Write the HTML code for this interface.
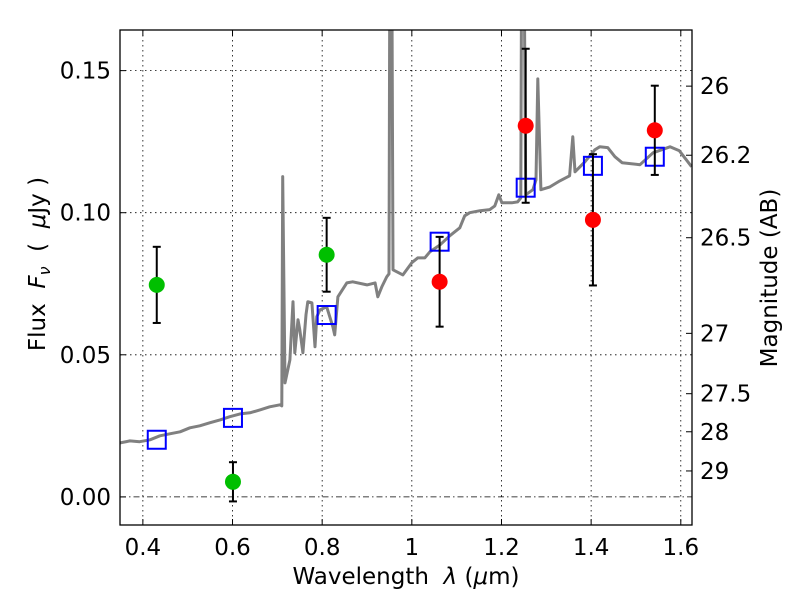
<!DOCTYPE html>
<html><head><meta charset="utf-8"><style>
body{margin:0;background:#fff;}
svg{display:block;font-family:"DejaVu Sans","Liberation Sans",sans-serif;}
text{white-space:pre;}
</style></head><body>
<svg id="chart" width="800" height="600" viewBox="0 0 800 600" xmlns="http://www.w3.org/2000/svg">
<rect width="800" height="600" fill="#fff"/>
<defs><clipPath id="pc"><rect x="120" y="30" width="572" height="495"/></clipPath></defs>
<g id="grid"></g>
<g id="marks" clip-path="url(#pc)"></g>
<rect x="120" y="30" width="572" height="495" fill="none" stroke="#000" stroke-width="1.3"/>
<g id="axes"></g>
<text x="406" y="584" font-size="23" text-anchor="middle">Wavelength  <tspan font-style="italic">λ</tspan> (<tspan font-style="italic">μ</tspan>m)</text>
<text transform="translate(45,264) rotate(-90)" font-size="23" text-anchor="middle">Flux  <tspan font-style="italic">F</tspan><tspan font-style="italic" font-size="16" dy="5">ν</tspan><tspan dy="-5">  (  </tspan><tspan font-style="italic">μ</tspan>Jy )</text>
<text transform="translate(777,278) rotate(-90)" font-size="23" text-anchor="middle">Magnitude (AB)</text>
</svg>
<script>
const specLam=[0.349,0.371,0.393,0.416,0.438,0.460,0.483,0.505,0.527,0.550,0.572,0.594,0.617,0.639,0.661,0.683,0.706,0.710,0.712,0.717,0.728,0.735,0.739,0.746,0.750,0.757,0.764,0.768,0.777,0.784,0.788,0.795,0.810,0.824,0.828,0.835,0.855,0.868,0.900,0.918,0.924,0.933,0.944,0.949,0.951,0.955,0.958,0.980,1.000,1.013,1.029,1.040,1.063,1.085,1.107,1.118,1.129,1.152,1.174,1.185,1.194,1.201,1.223,1.236,1.243,1.245,1.250,1.254,1.270,1.277,1.281,1.288,1.308,1.330,1.352,1.359,1.364,1.386,1.408,1.419,1.437,1.453,1.469,1.509,1.538,1.576,1.597,1.624];
const specFlux=[0.0190,0.0197,0.0194,0.0201,0.0215,0.0222,0.0229,0.0243,0.0250,0.0261,0.0271,0.0282,0.0292,0.0296,0.0306,0.0317,0.0324,0.0320,0.1127,0.0401,0.0482,0.0687,0.0507,0.0623,0.0588,0.0507,0.0641,0.0687,0.0683,0.0528,0.0634,0.0658,0.0669,0.0598,0.0570,0.0704,0.0753,0.0757,0.0746,0.0753,0.0704,0.0739,0.0774,0.0785,0.20,0.20,0.0799,0.0781,0.0824,0.0841,0.0841,0.0862,0.0887,0.0919,0.0947,0.0989,0.1000,0.1007,0.1011,0.1024,0.1063,0.1035,0.1035,0.1038,0.1052,0.20,0.20,0.1063,0.1081,0.1116,0.1471,0.1081,0.1091,0.1112,0.1130,0.1267,0.1144,0.1179,0.1221,0.1232,0.1229,0.1197,0.1176,0.1169,0.1211,0.1232,0.1218,0.1162];
const greenLam=[0.431,0.601,0.810];
const greenFlux=[0.0746,0.0053,0.0852];
const greenErr=[0.0134,0.0069,0.0130];
const redLam=[1.062,1.254,1.404,1.542];
const redFlux=[0.0757,0.1306,0.0975,0.1290];
const redErr=[0.0158,0.0271,0.0231,0.0157];
const modelLam=[0.431,0.601,0.810,1.062,1.254,1.404,1.542];
const modelFlux=[0.0201,0.0278,0.0640,0.0898,0.1088,0.1165,0.1197];
const xTicks=[0.4,0.6,0.8,1.0,1.2,1.4,1.6];
const xTickLabels=["0.4","0.6","0.8","1","1.2","1.4","1.6"];
const yTicks=[0,0.05,0.10,0.15];
const yTickLabels=["0.00","0.05","0.10","0.15"];
const magTicks=[26,26.2,26.5,27,27.5,28,29];
const magTickLabels=["26","26.2","26.5","27","27.5","28","29"];

const NS="http://www.w3.org/2000/svg";
const X0=120,X1=692,Y0=30,Y1=525,xmin=0.349,xmax=1.625,ymin=-0.0099,ymax=0.1643;
function sx(v){return X0+(v-xmin)/(xmax-xmin)*(X1-X0);}
function sy(v){return Y1-(v-ymin)/(ymax-ymin)*(Y1-Y0);}
function mk(tag,attrs,parent){const e=document.createElementNS(NS,tag);for(const k in attrs)e.setAttribute(k,attrs[k]);parent.appendChild(e);return e;}
const grid=document.getElementById('grid'),marks=document.getElementById('marks'),axes=document.getElementById('axes');

xTicks.forEach((t,i)=>{
  const x=sx(t);
  const g=mk('line',{x1:x,x2:x,y1:Y0,y2:Y1,stroke:'#000','stroke-width':0.8,'stroke-dasharray':'1.5,3.5'},grid);
  
  mk('line',{x1:x,x2:x,y1:Y1,y2:Y1-6,stroke:'#000'},axes);
  mk('line',{x1:x,x2:x,y1:Y0,y2:Y0+6,stroke:'#000'},axes);
  const tx=mk('text',{x:x,y:555,'font-size':23,'text-anchor':'middle'},axes);
  tx.textContent=xTickLabels[i];
  
  
});
yTicks.forEach((t,i)=>{
  const y=sy(t);
  const g=mk('line',{x1:X0,x2:X1,y1:y,y2:y,stroke:'#000','stroke-width':0.8,'stroke-dasharray':t===0?'6,3,1.5,3':'1.5,3.5'},grid);
  
  mk('line',{x1:X0,x2:X0+6,y1:y,y2:y,stroke:'#000'},axes);
  const tx=mk('text',{x:111,y:y+8,'font-size':23,'text-anchor':'end'},axes);
  tx.textContent=yTickLabels[i];
  
  
});
magTicks.forEach((m,i)=>{
  const f=Math.pow(10,(23.9-m)/2.5);
  const y=sy(f);
  mk('line',{x1:X1,x2:X1-6,y1:y,y2:y,stroke:'#000'},axes);
  const tx=mk('text',{x:700,y:y+8,'font-size':23,'text-anchor':'start'},axes);
  tx.textContent=magTickLabels[i];
  
  
});

let d='';
specLam.forEach((l,i)=>{d+=(i?'L':'M')+sx(l).toFixed(1)+','+sy(specFlux[i]).toFixed(1);});
const sp=mk('path',{d:d,fill:'none',stroke:'#808080','stroke-width':3,'stroke-linejoin':'round'},marks);



modelLam.forEach((l,i)=>{
  const r=mk('rect',{x:sx(l)-9,y:sy(modelFlux[i])-9,width:18,height:18,fill:'none',stroke:'#0000ff','stroke-width':2},marks);
  
  
});
function pts(lams,fl,er,col,name){
  lams.forEach((l,i)=>{
    const x=sx(l),yt=sy(fl[i]+er[i]),yb=sy(fl[i]-er[i]);
    mk('line',{x1:x,x2:x,y1:yt,y2:yb,stroke:'#000','stroke-width':2},marks);
    mk('line',{x1:x-4,x2:x+4,y1:yt,y2:yt,stroke:'#000','stroke-width':2},marks);
    mk('line',{x1:x-4,x2:x+4,y1:yb,y2:yb,stroke:'#000','stroke-width':2},marks);
    const c=mk('circle',{cx:x,cy:sy(fl[i]),r:8,fill:col},marks);
    
    
  });
}
pts(greenLam,greenFlux,greenErr,'#00bf00','green-data-point');
pts(redLam,redFlux,redErr,'#ff0000','red-data-point');
</script>
</body></html>
